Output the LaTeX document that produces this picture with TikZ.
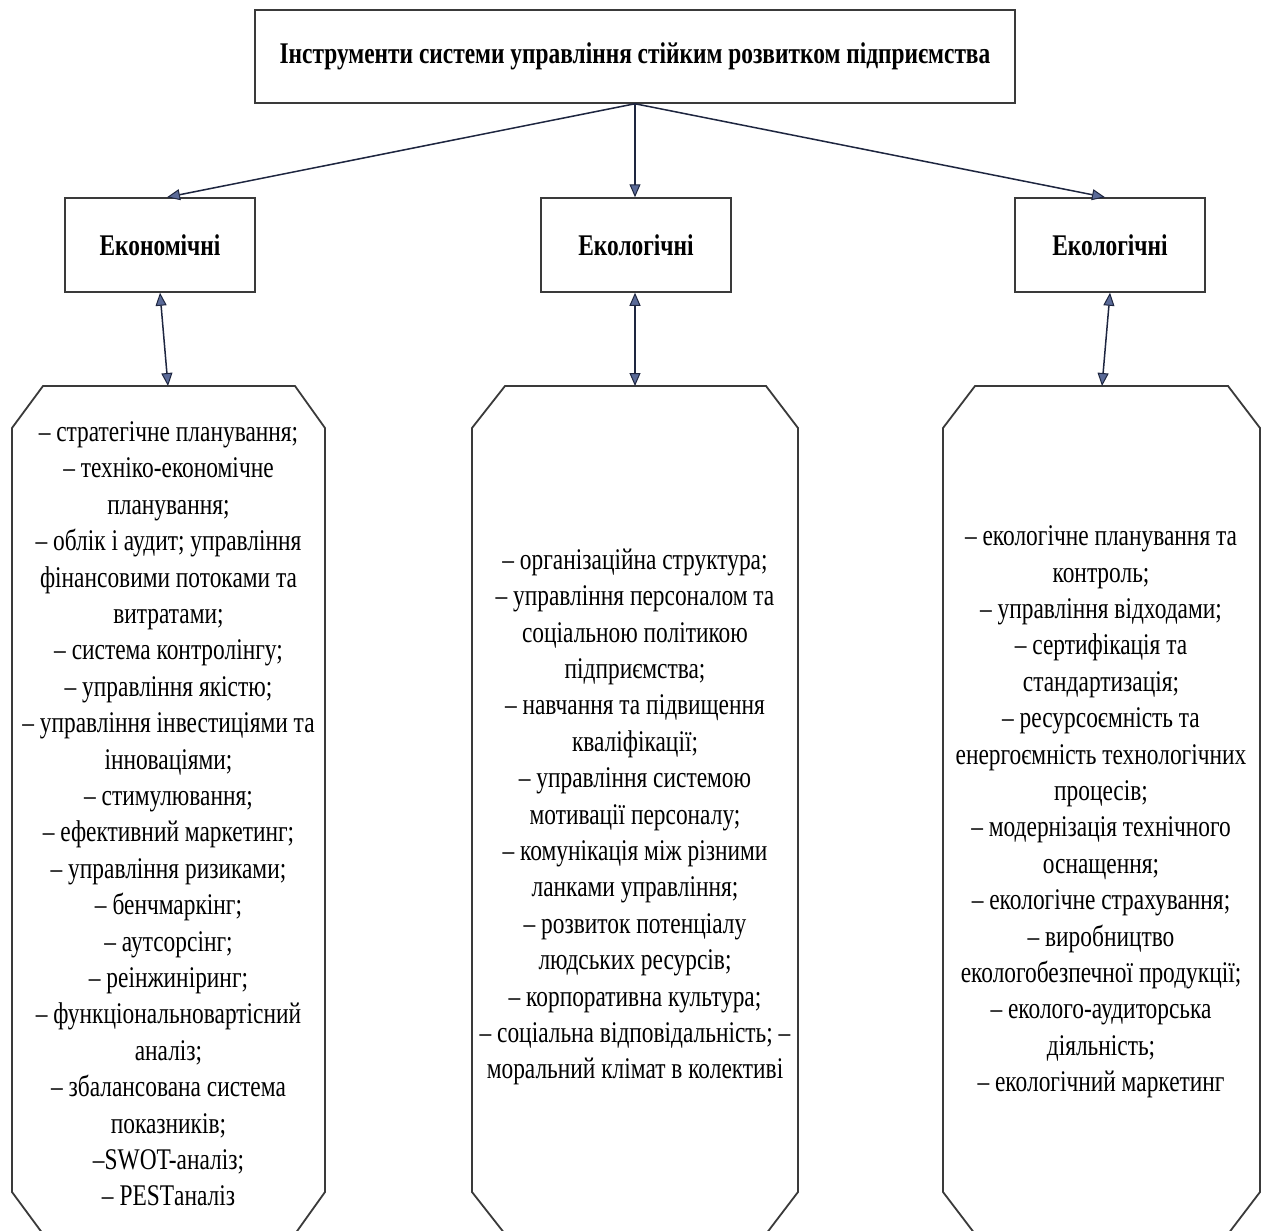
\documentclass[tikz,border=0pt]{standalone}
\usepackage{fontspec}
\setmainfont[FakeStretch=0.78]{Liberation Serif}
\usetikzlibrary{arrows.meta,calc}
\definecolor{tipfill}{HTML}{5A6A98}
\definecolor{tipline}{HTML}{1E2640}
\definecolor{edge}{HTML}{3A3A3A}
\begin{document}
\begin{tikzpicture}[x=1pt,y=-1pt,
  box/.style={draw=edge, line width=1.5pt, fill=white, rectangle, inner sep=0pt,
    font=\fontsize{30}{36}\selectfont\bfseries},
  oct/.style={draw=edge, line width=1.8pt},
  body/.style={align=center, inner sep=0pt, font=\fontsize{30}{36.4}\selectfont},
  tip/.style={Triangle[length=13pt,width=11pt,fill=tipfill,line width=1pt]},
  link/.style={draw=tipline, line width=1.5pt, -{Triangle[length=13pt,width=11pt,fill=tipfill,line width=1pt]}},
  dlink/.style={draw=tipline, line width=1.5pt, {Triangle[length=13pt,width=11pt,fill=tipfill,line width=1pt]}-{Triangle[length=13pt,width=11pt,fill=tipfill,line width=1pt]}}]
\useasboundingbox (0,0) rectangle (1261,1231);
\fill[white] (0,0) rectangle (1261,1231);
\clip (0,0) rectangle (1261,1231);

% top box
\node[box, minimum width=760pt, minimum height=93pt] (top) at (635,56.5)
  {Інструменти системи управління стійким розвитком підприємства};

% category boxes
\node[box, minimum width=190pt, minimum height=94pt] (ecoL) at (160,245) {Економічні};
\node[box, minimum width=190pt, minimum height=94pt] (ecoM) at (636,245) {Екологічні};
\node[box, minimum width=190pt, minimum height=94pt] (ecoR) at (1110,245) {Екологічні};

% octagons
\draw[oct] (43,386) -- (295,386) -- (325,428) -- (325,1192) -- (295,1234) -- (43,1234) -- (12,1192) -- (12,428) -- cycle;
\draw[oct] (505,386) -- (766,386) -- (798,428) -- (798,1192) -- (766,1234) -- (505,1234) -- (472,1192) -- (472,428) -- cycle;
\draw[oct] (975,386) -- (1228,386) -- (1260,428) -- (1260,1192) -- (1228,1234) -- (975,1234) -- (943,1192) -- (943,428) -- cycle;
\coordinate (octL) at (168,386);
\coordinate (octM) at (635,386);
\coordinate (octR) at (1102,386);

% texts
\node[body] (txtL) at (168.5,814) {– стратегічне планування;\\
– техніко-економічне\\
планування;\\
– облік і аудит; управління\\
фінансовими потоками та\\
витратами;\\
– система контролінгу;\\
– управління якістю;\\
– управління інвестиціями та\\
інноваціями;\\
– стимулювання;\\
– ефективний маркетинг;\\
– управління ризиками;\\
– бенчмаркінг;\\
– аутсорсінг;\\
– реінжиніринг;\\
– функціональновартісний\\
аналіз;\\
– збалансована система\\
показників;\\
–SWOT-аналіз;\\
– PESTаналіз};

\node[body] (txtM) at (635,817) {– організаційна структура;\\
– управління персоналом та\\
соціальною політикою\\
підприємства;\\
– навчання та підвищення\\
кваліфікації;\\
– управління системою\\
мотивації персоналу;\\
– комунікація між різними\\
ланками управління;\\
– розвиток потенціалу\\
людських ресурсів;\\
– корпоративна культура;\\
– соціальна відповідальність; –\\
моральний клімат в колективі};

\node[body] (txtR) at (1101,812) {– екологічне планування та\\
контроль;\\
– управління відходами;\\
– сертифікація та\\
стандартизація;\\
– ресурсоємність та\\
енергоємність технологічних\\
процесів;\\
– модернізація технічного\\
оснащення;\\
– екологічне страхування;\\
– виробництво\\
екологобезпечної продукції;\\
– еколого-аудиторська\\
діяльність;\\
– екологічний маркетинг};

% connectors
\draw[link] (top.south) -- ([xshift=7pt]ecoL.north);
\draw[link] (top.south) -- (top.south |- ecoM.north);
\draw[link] (top.south) -- ([xshift=-5pt]ecoR.north);
\draw[dlink] (ecoL.south) -- (octL);
\draw[dlink] (ecoM.south -| octM) -- (octM);
\draw[dlink] (ecoR.south) -- (octR);
\end{tikzpicture}
\end{document}
